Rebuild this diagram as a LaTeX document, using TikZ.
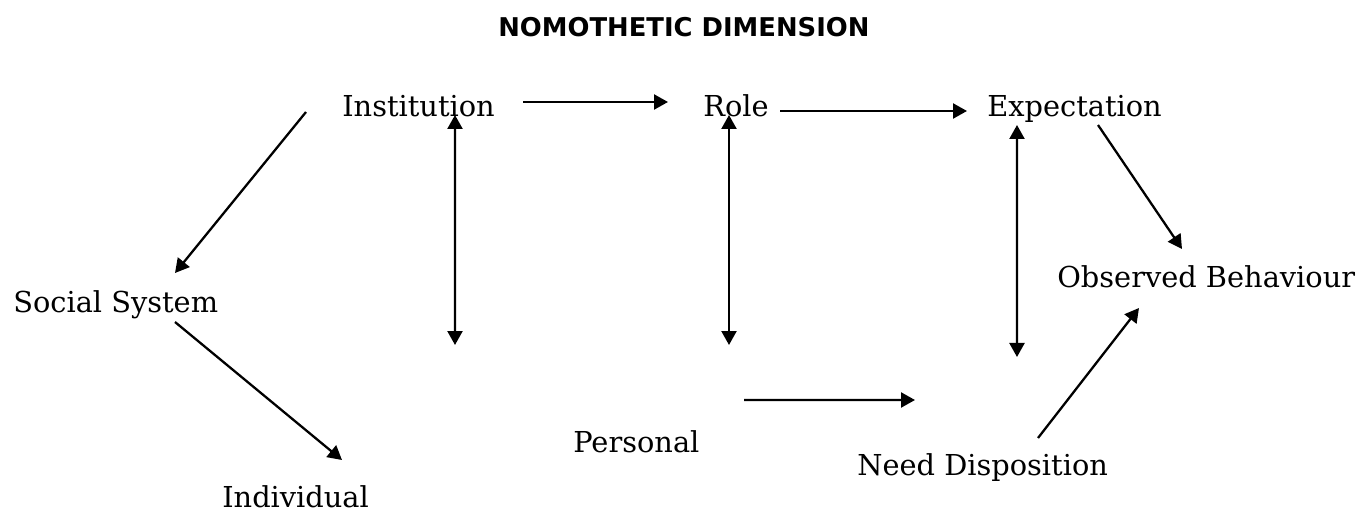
\documentclass[tikz,border=0pt]{standalone}
\usepackage{fontspec}
\setmainfont{DejaVu Serif}
\newfontfamily\headfont{DejaVu Sans}
\usetikzlibrary{arrows.meta}

\begin{document}
\begin{tikzpicture}[
  every node/.style={inner sep=0pt, anchor=base west},
  term/.style={font=\fontsize{16.4}{19}\selectfont},
  arrow/.style={-{Triangle[length=0.28cm, width=0.30cm]}, line width=1.3pt},
  dblarrow/.style={{Triangle[length=0.28cm, width=0.30cm]}-{Triangle[length=0.28cm, width=0.30cm]}, line width=1.3pt},
]

\useasboundingbox (0,0) rectangle (27.38,10.24);

\node[font=\headfont\bfseries\fontsize{14.7}{17}\selectfont] (title) at (9.96,9.50) {NOMOTHETIC DIMENSION};

\node[term] (inst) at (6.84,7.90) {Institution};
\node[term] (role) at (14.06,7.90) {Role};
\node[term] (expe) at (19.74,7.90) {Expectation};
\node[term] (soc) at (0.26,4.00) {Social System};
\node[term] (obs) at (21.14,4.48) {Observed Behaviour};
\node[term] (pers) at (11.46,1.20) {Personal};
\node[term] (need) at (17.14,0.74) {Need Disposition};
\node[term] (indiv) at (4.44,0.10) {Individual};

\coordinate (instlow) at (9.10,3.34);
\coordinate (rolelow) at (14.58,3.34);
\coordinate (expelow) at (20.34,3.10);

\draw[arrow] ([shift={(-0.72,0.10)}]inst.base west) -- ([shift={(3.24,0.78)}]soc.base west);
\draw[arrow] ([shift={(3.24,-0.20)}]soc.base west) -- ([shift={(2.40,0.94)}]indiv.base west);
\draw[arrow] ([shift={(3.62,0.30)}]inst.base west) -- ([shift={(-0.70,0.30)}]role.base west);
\draw[arrow] ([shift={(1.54,0.12)}]role.base west) -- ([shift={(-0.40,0.12)}]expe.base west);
\draw[arrow] ([shift={(2.22,-0.16)}]expe.base west) -- ([shift={(2.50,0.78)}]obs.base west);
\draw[arrow] ([shift={(3.62,0.74)}]need.base west) -- ([shift={(1.64,-0.40)}]obs.base west);
\draw[arrow] ([shift={(3.42,1.04)}]pers.base west) -- ([shift={(1.16,1.50)}]need.base west);

\draw[dblarrow] ([shift={(2.26,0.04)}]inst.base west) -- (instlow);
\draw[dblarrow] ([shift={(0.52,0.04)}]role.base west) -- (rolelow);
\draw[dblarrow] ([shift={(0.60,-0.16)}]expe.base west) -- (expelow);

\end{tikzpicture}
\end{document}
